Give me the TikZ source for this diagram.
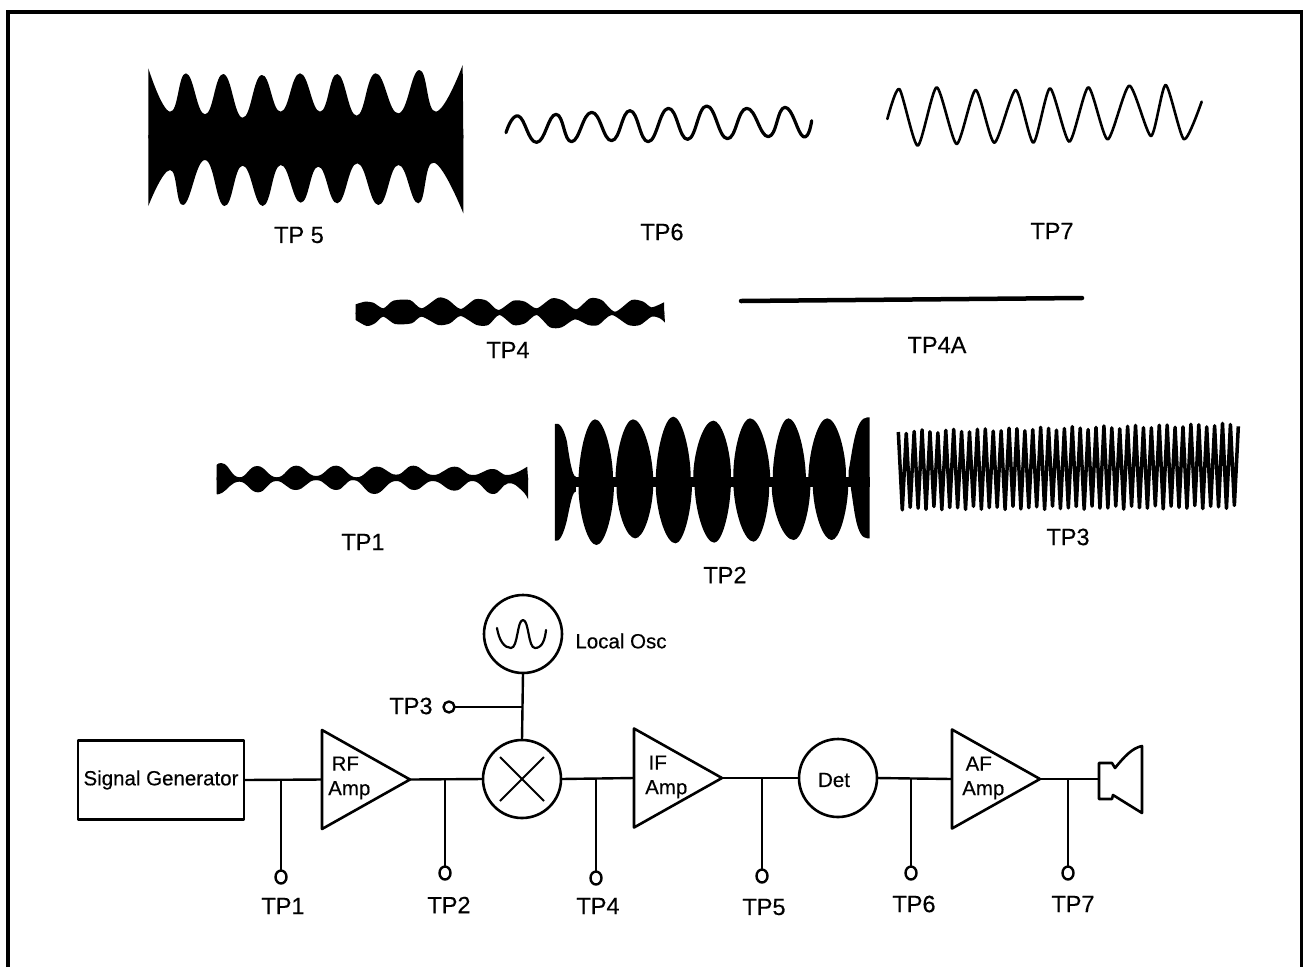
\documentclass[tikz,border=0pt]{standalone}
\usepackage{fontspec}
\setmainfont[FakeBold=0.4]{Liberation Sans}
\usetikzlibrary{shapes.geometric}
\tikzset{
  wire/.style={line width=2.4pt},
  tplabel/.style={inner sep=0pt,font=\fontsize{23.5}{26}\selectfont},
  blocktext/.style={inner sep=0pt,font=\fontsize{20.5}{23}\selectfont},
  amptext/.style={inner sep=0pt,anchor=west,align=left,font=\fontsize{20.5}{24.5}\selectfont},
  round block/.style={circle,draw,line width=2.6pt,minimum size=78pt,inner sep=0pt,outer sep=0pt},
  amp/.style={isosceles triangle,isosceles triangle stretches=true,draw,line width=2.6pt,
     minimum height=88pt,minimum width=99pt,inner sep=0pt,outer sep=0pt,anchor=apex,
     shape border rotate=0},
  tp/.style={ellipse,draw,line width=2.4pt,minimum width=11pt,minimum height=13pt,inner sep=0pt,outer sep=0pt},
  env/.style={smooth,tension=.8},
}
\begin{document}
\begin{tikzpicture}[x=1pt,y=-1pt,line join=round]
\useasboundingbox (0,0) rectangle (1303,967);
\fill[white] (0,0) rectangle (1303,967);
\draw[line width=4pt,line join=miter] (7.5,967) -- (7.5,11.5) -- (1301.5,11.5) -- (1301.5,967);

% TP5
\begin{scope}[shift={(130,50)},xscale=1/3,yscale=1/3]
\fill plot[env] coordinates {(55,55)(120,185)(168,70)(225,193)(280,72)(338,203)(395,75)(452,185)(510,70)(570,185)(622,72)(680,197)(737,70)(805,190)(868,60)(918,185)(998,45)} -- (1000,265) -- (55,265) -- cycle;
\fill plot[env] coordinates {(55,468)(120,360)(160,465)(225,330)(283,468)(338,347)(398,468)(452,345)(512,458)(565,350)(622,460)(682,340)(745,465)(805,345)(865,460)(912,338)(1000,490)} -- (1000,255) -- (55,255) -- cycle;
\end{scope}
% TP6
\begin{scope}[shift={(490,80)},xscale=1/3,yscale=1/3]
\draw[line width=3.2pt,line cap=round] plot[smooth,tension=.8] coordinates {(48,158)(85,108)(140,187)(198,103)(245,185)(305,97)(365,182)(420,92)(475,185)(535,85)(593,178)(650,78)(712,176)(770,85)(835,170)(885,82)(940,170)(965,122)};
\end{scope}
% TP7
\begin{scope}[shift={(870,70)},xscale=1/3,yscale=1/3]
\draw[line width=2.6pt,line cap=round] plot[smooth,tension=.4] coordinates {(52,147)(88,57)(143,227)(200,52)(260,222)(317,60)(373,218)(437,60)(490,218)(540,55)(598,215)(655,52)(713,208)(778,47)(843,198)(887,45)(942,208)(995,95)};
\end{scope}
% TP4
\begin{scope}[shift={(340,270)},xscale=1/3,yscale=1/3]
\fill plot[smooth,tension=.45] coordinates {(47,103)(75,95)(100,98)(130,115)(160,92)(210,90)(245,115)(295,83)(325,90)(362,117)(405,88)(440,92)(475,120)(520,92)(555,95)(590,115)(635,85)(670,92)(708,118)(750,85)(785,90)(825,125)(875,90)(910,95)(935,112)(972,97)} -- (973,132) -- (47,132) -- cycle;
\fill plot[smooth,tension=.45] coordinates {(47,150)(80,168)(105,160)(130,140)(165,162)(215,160)(245,140)(295,165)(330,160)(362,138)(410,165)(445,165)(478,135)(520,165)(555,160)(590,135)(630,172)(665,172)(705,148)(745,165)(775,165)(815,135)(865,165)(900,165)(935,140)(960,145)(975,158)} -- (973,128) -- (47,128) -- cycle;
\end{scope}
% TP4A
\draw[line width=4.5pt,line cap=round] (741,301) -- (1082,298);
% TP1 and TP2
\begin{scope}[shift={(200,400)},xscale=1/2.24,yscale=1/3]
\fill plot[env] coordinates {(37,195)(55,192)(88,232)(128,198)(172,232)(215,197)(260,228)(305,197)(350,232)(395,200)(440,224)(478,197)(522,225)(570,200)(610,225)(655,207)(690,225)(733,200)} -- (735,240) -- (37,240) -- cycle;
\fill plot[env] coordinates {(37,282)(50,278)(88,245)(130,277)(170,243)(215,270)(260,240)(305,270)(345,240)(390,282)(437,243)(480,270)(522,243)(570,272)(612,243)(655,282)(690,250)(720,270)(735,298)} -- (735,232) -- (37,232) -- cycle;
% TP2 band, end lobes, and lobes
\fill (795,232) rectangle (1500,262);
\fill (795,245) -- (795,72) .. controls (805,65) and (815,85) .. (822,125) .. controls (828,180) and (834,230) .. (842,230) -- (842,245) -- cycle;
\fill (795,245) -- (795,422) .. controls (805,430) and (815,400) .. (822,360) .. controls (830,310) and (834,275) .. (842,275) -- (842,245) -- cycle;
\fill (1453,245) -- (1453,212) .. controls (1462,150) and (1468,52) .. (1495,52) -- (1500,52) -- (1500,245) -- cycle;
\fill (1458,245) -- (1458,265) .. controls (1466,330) and (1470,415) .. (1495,415) -- (1500,415) -- (1500,245) -- cycle;
\foreach \xa/\ya/\xp/\yp/\xb/\yb in {848/230/885/58/925/222,931/222/970/58/1015/228,1021/228/1060/50/1099/218,1105/218/1150/62/1189/208,1195/208/1232/55/1277/222,1283/222/1318/55/1357/222,1363/222/1405/55/1447/212,
848/275/888/435/927/272,933/272/975/415/1015/268,1021/268/1065/430/1102/265,1108/265/1152/428/1189/262,1195/262/1240/425/1275/272,1281/272/1330/420/1367/270,1373/270/1415/420/1452/265}
  \fill (\xa,245) -- (\xa,\ya)
    .. controls ({\xa+.08*(\xp-\xa)},{\ya+.5*(\yp-\ya)}) and ({\xp-.45*(\xp-\xa)},\yp) .. (\xp,\yp)
    .. controls ({\xp+.45*(\xb-\xp)},\yp) and ({\xb-.08*(\xb-\xp)},{\yb+.5*(\yp-\yb)}) .. (\xb,\yb)
    -- (\xb,245) -- cycle;
\end{scope}
% TP3
\begin{scope}[shift={(880,410)},xscale=1/3,yscale=1/3]
\draw[line width=3.5pt] plot[samples=87,domain=0:86] ({55+\x*11.86},{cos(180*\x)>0 ? 66-22*\x/86+5*sin(\x*47) : 295-4*\x/86+5*sin(\x*71)});
\end{scope}

% waveform labels
\node[tplabel] (w5) at (299,235) {TP 5};
\node[tplabel] (w6) at (662,232) {TP6};
\node[tplabel] (w7) at (1052,231) {TP7};
\node[tplabel] (w4) at (508,350) {TP4};
\node[tplabel] (w4a) at (937,345) {TP4A};
\node[tplabel] (w1) at (363,542) {TP1};
\node[tplabel] (w2) at (725,575) {TP2};
\node[tplabel] (w3) at (1068,537) {TP3};

% blocks
\node[draw,line width=2.6pt,minimum width=166pt,minimum height=79pt,inner sep=0pt,outer sep=0pt,blocktext] (sg) at (161,780) {Signal Generator};
\node[amp] (rf) at (410,779.5) {};
\node[amptext] (rft) at (328,778) {\,RF\\Amp};
\node[round block] (mix) at (522,779) {};
\node[round block] (osc) at (523,634) {};
\node[blocktext] (osct) at (621,641) {Local Osc};
\node[amp] (if) at (722,778) {};
\node[amptext] (ift) at (645,777) {\,IF\\Amp};
\node[round block] (det) at (838,778) {};
\node[blocktext] (dett) at (834,780) {Det};
\node[amp] (af) at (1040,779) {};
\node[amptext] (aft) at (962,778) {\,AF\\Amp};

% mixer cross
\draw[line width=2pt] (mix.center) ++(-22,-22) -- ++(44,44);
\draw[line width=2pt] (mix.center) ++(22,-22) -- ++(-44,44);
% oscillator symbol
\draw[line width=2.2pt,line cap=round] (497,628) .. controls (499,640) and (504,648) .. (511,648) .. controls (518,648) and (517,620) .. (523,620) .. controls (529,620) and (528,648) .. (535,648) .. controls (542,648) and (545,640) .. (546,630);
% speaker
\coordinate (spk) at (1099,779);
\draw[line width=2.6pt] (1099,763) -- (1112,763) -- (1115,768) .. controls (1124,757) and (1132,748) .. (1142,746) -- (1142,813) -- (1113,795) -- (1112,799) -- (1099,799) -- cycle;

% test points
\node[tp] (p1) at (281,877) {};
\node[tp] (p2) at (445,873) {};
\node[tp] (p4) at (596,878) {};
\node[tp] (p5) at (762,876) {};
\node[tp] (p6) at (911,873) {};
\node[tp] (p7) at (1068,873) {};
\node[tp,minimum width=11pt,minimum height=11pt] (p3) at (449,707) {};
\node[tplabel] (l1) at (283,906) {TP1};
\node[tplabel] (l2) at (449,905) {TP2};
\node[tplabel] (l3) at (411,706) {TP3};
\node[tplabel] (l4) at (598,906) {TP4};
\node[tplabel] (l5) at (764,907) {TP5};
\node[tplabel] (l6) at (914,904) {TP6};
\node[tplabel] (l7) at (1073,904) {TP7};

% connectors
\draw[wire] (sg.east) -- (rf.lower side);
\draw[wire] (rf.apex) -- (mix.west);
\draw[wire] (mix.east) -- (if.lower side);
\draw[wire] (if.apex) -- (det.west);
\draw[wire] (det.east) -- (af.lower side);
\draw[wire] (af.apex) -- (spk);
\draw[wire] (osc.south) -- (mix.north);
\draw[wire] (p3.east) -- (p3.east -| osc.south);
\draw[wire] (p1.north) -- (p1.north |- sg.east);
\draw[wire] (p2.north) -- (p2.north |- rf.apex);
\draw[wire] (p4.north) -- (p4.north |- mix.east);
\draw[wire] (p5.north) -- (p5.north |- if.apex);
\draw[wire] (p6.north) -- (p6.north |- det.east);
\draw[wire] (p7.north) -- (p7.north |- af.apex);
\end{tikzpicture}
\end{document}
